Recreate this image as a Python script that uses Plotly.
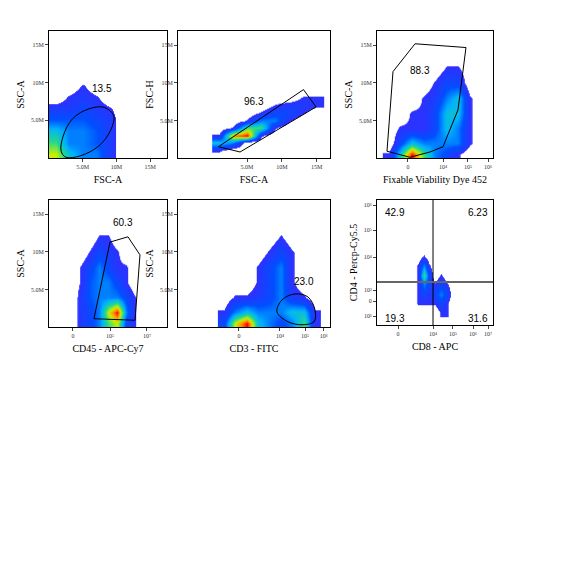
import plotly.graph_objects as go
from plotly.subplots import make_subplots

W = H = 563
OFF = 8  # page margin of the html body

# ---- density grids (rows from bottom) ----
p1_x = [1, 3, 5, 7, 9, 11, 13, 15]
p1_y = [0.5, 2, 3.5, 5, 6.5, 8, 9.5, 11]
p1_z = [
    [6, 4, 3, 3, 1.5, 0, 0, 0],
    [5, 3, 3, 2.5, 1.5, 0, 0, 0],
    [4, 3, 3, 2.5, 1.5, 0, 0, 0],
    [2.5, 2.5, 2.5, 2, 1.5, 0, 0, 0],
    [1.5, 1.5, 2, 1.5, 1, 0, 0, 0],
    [0, 1, 1.5, 1, 0, 0, 0, 0],
    [0, 0, 1, 0, 0, 0, 0, 0],
    [0, 0, 0, 0, 0, 0, 0, 0],
]
p2_x = [1, 3, 5, 7, 9, 11, 13, 15]
p2_y = [0, 1, 2, 3, 4, 5, 6, 7, 8, 9]
p2_z = [
    [0, 0, 0, 0, 0, 0, 0, 0],
    [1, 0, 0, 0, 0, 0, 0, 0],
    [4, 3, 0, 0, 0, 0, 0, 0],
    [1, 7, 8, 1, 0, 0, 0, 0],
    [0, 1, 5, 5, 1, 0, 0, 0],
    [0, 0, 1, 3, 3, 1, 0, 0],
    [0, 0, 0, 1, 2, 2, 1, 0],
    [0, 0, 0, 0, 1, 1.5, 1.5, 1],
    [0, 0, 0, 0, 0, 0, 1, 1],
    [0, 0, 0, 0, 0, 0, 0, 0],
]
p3_x = [10, 20, 30, 40, 50, 60, 70, 80, 90]
p3_y = [0.5, 2, 4, 6, 8, 10, 12, 14]
p3_z = [
    [1, 4, 8, 5, 3, 2, 1, 0, 0],
    [0, 2, 4, 3, 3, 3, 3, 1, 0],
    [0, 1, 1, 1, 2, 4, 3, 1, 0],
    [0, 0, 1, 1, 2, 4, 4, 1, 0],
    [0, 0, 0, 1, 1.5, 3, 4, 1, 0],
    [0, 0, 0, 0, 1, 2, 2, 0, 0],
    [0, 0, 0, 0, 0, 1, 1, 0, 0],
    [0, 0, 0, 0, 0, 0, 0, 0, 0],
]
p4_x = [20, 27.5, 35, 42.5, 50, 57.5, 65, 72.5, 80]
p4_y = [0.5, 2, 4, 6, 8, 10, 12, 14]
p4_z = [
    [0, 1.5, 2, 3, 5, 6, 2, 1, 0],
    [0, 1.5, 2, 3, 6, 8, 3, 1, 0],
    [0, 1.5, 2.5, 3, 3, 3, 2, 1, 0],
    [0, 1, 2.5, 3, 3, 2, 1, 0, 0],
    [0, 1, 2, 3, 2, 1, 1, 0, 0],
    [0, 0, 1, 2, 1.5, 1, 0, 0, 0],
    [0, 0, 0, 1, 1, 0, 0, 0, 0],
    [0, 0, 0, 0, 0, 0, 0, 0, 0],
]
p5_x = [30, 37.5, 45, 52.5, 60, 67.5, 75, 82.5, 90]
p5_y = [0.5, 2, 4, 6, 8, 10, 12, 14]
p5_z = [
    [2, 6, 8, 4, 3, 2, 3, 5, 1],
    [1, 3, 4, 3, 3, 3, 4, 4, 1],
    [0, 1, 1, 1.5, 2, 3, 1.5, 1, 0],
    [0, 0, 0, 1, 2, 3, 1, 0, 0],
    [0, 0, 0, 1, 2, 3, 1, 0, 0],
    [0, 0, 0, 0, 1, 2, 1, 0, 0],
    [0, 0, 0, 0, 0, 1, 0, 0, 0],
    [0, 0, 0, 0, 0, 0, 0, 0, 0],
]
p6_x = [30, 35, 40, 45, 50, 55, 60, 65]
p6_y = [10, 17.5, 25, 32.5, 40, 47.5, 55, 62.5]
p6_z = [
    [0, 0, 0, 0, 0, 1, 1, 0],
    [0, 1, 1, 1, 1, 2, 1, 0],
    [0, 1, 2, 1, 2, 3, 2, 0],
    [0, 1, 3, 2, 1, 2, 1, 0],
    [0, 1, 5, 2, 0, 1, 0, 0],
    [0, 1, 3, 1, 0, 0, 0, 0],
    [0, 0, 1, 0, 0, 0, 0, 0],
    [0, 0, 0, 0, 0, 0, 0, 0],
]

# ---- gates ----
g1_x = [1.8, 2.1, 3.5, 5.9, 8.2, 9.6, 9.1, 7.4, 4.7, 2.5, 1.8]
g1_y = [0.9, 2.9, 5.2, 6.5, 6.7, 5.6, 3.6, 1.6, 0.3, 0.1, 0.9]
g2_x = [0.9, 4.0, 14.9, 13.1, 0.9]
g2_y = [1.5, 0.8, 6.8, 9.1, 1.5]
g3_x = [8.6, 13.8, 32.8, 76.7, 69.8, 56.9, 45.7, 28.4, 8.6]
g3_y = [0.9, 11.5, 15.2, 14.7, 6.4, 1.5, 0.8, 0.1, 0.9]
g4_x = [38.1, 51.7, 66.9, 77.1, 72.9, 38.1]
g4_y = [1.1, 11.3, 12.0, 9.6, 0.9, 1.1]
g5_x = [65.1, 68.4, 77.0, 85.5, 90.1, 89.5, 81.6, 72.4, 65.1]
g5_y = [2.0, 3.6, 4.4, 4.0, 2.3, 0.7, 0.3, 0.7, 2.0]
quad_x, quad_y = 48.3, 34.4

# ---- labels ----
gate_labels = [
    (1, 1, 7.8, 9.2, "13.5"), (1, 2, 6.0, 7.5, "96.3"), (1, 3, 37, 11.7, "88.3"),
    (2, 1, 62.7, 13.9, "60.3"), (2, 2, 82.9, 6.0, "23.0"),
    (2, 3, 15.5, 90.4, "42.9"), (2, 3, 87, 90.4, "6.23"),
    (2, 3, 15.5, 5.6, "19.3"), (2, 3, 87, 5.6, "31.6"),
]
ssc_ticks = [5, 10, 15]
ssc_text = ["5.0M", "10M", "15M"]
fsc_ticks = [5, 10, 15]
fsc_text = ["5.0M", "10M", "15M"]
p3_ticks = [26.7, 56.9, 78.4, 95.7]
p3_text = ["0", "10⁴", "10⁵", "10⁶"]
p4_ticks = [20.3, 51.7, 83]
p4_text = ["0", "10⁵", "10⁷"]
p5_ticks = [40.1, 67.1, 83.6, 96]
p5_text = ["0", "10⁴", "10⁵", "10⁶"]
p6x_ticks = [18.1, 48.3, 65.5, 82.8, 95.7]
p6x_text = ["0", "10⁴", "10⁵", "10⁶", "10⁷"]
p6y_ticks = [7.2, 19.2, 28, 54.4, 76, 96]
p6y_text = ["10¹", "0", "10³", "10⁴", "10⁵", "10⁶"]

cscale = [[0, "rgba(255,255,255,0)"], [0.1, "rgba(255,255,255,0)"], [0.105, "#3030ff"],
          [0.3, "#0050ff"], [0.45, "#00b0ff"], [0.6, "#20d890"], [0.75, "#c8f000"],
          [0.88, "#ff9000"], [1, "#ff0000"]]

fig = make_subplots(rows=2, cols=3)

panels = [
    (1, 1, p1_x, p1_y, p1_z), (1, 2, p2_x, p2_y, p2_z), (1, 3, p3_x, p3_y, p3_z),
    (2, 1, p4_x, p4_y, p4_z), (2, 2, p5_x, p5_y, p5_z), (2, 3, p6_x, p6_y, p6_z),
]
for r, c, x, y, z in panels:
    fig.add_trace(go.Heatmap(x=x, y=y, z=z, zmin=0, zmax=8, zsmooth="best",
                             colorscale=cscale, showscale=False, hoverinfo="skip"),
                  row=r, col=c)

for r, c, gx, gy, shape in [(1, 1, g1_x, g1_y, "spline"), (1, 2, g2_x, g2_y, "linear"),
                            (1, 3, g3_x, g3_y, "linear"), (2, 1, g4_x, g4_y, "linear"),
                            (2, 2, g5_x, g5_y, "spline")]:
    fig.add_trace(go.Scatter(x=gx, y=gy, mode="lines", line=dict(color="black", width=1),
                             line_shape=shape, hoverinfo="skip", showlegend=False),
                  row=r, col=c)

fig.add_vline(x=quad_x, line=dict(color="black", width=1), row=2, col=3)
fig.add_hline(y=quad_y, line=dict(color="#666", width=2), row=2, col=3)

for r, c, x, y, t in gate_labels:
    fig.add_annotation(x=x, y=y, text=t, showarrow=False, row=r, col=c,
                       font=dict(family="Liberation Sans", size=10, color="black"))

# pixel boxes of each plot area: (left, right, top, bottom)
boxes = {
    (1, 1): (49, 167, 31, 158), (1, 2): (178, 330, 31, 158), (1, 3): (377, 493, 31, 158),
    (2, 1): (49, 167, 200, 327), (2, 2): (178, 330, 200, 327), (2, 3): (377, 493, 200, 325),
}
axes = {
    (1, 1): ([0, 17.5], fsc_ticks, fsc_text, "FSC-A", [0, 16.8], ssc_ticks, ssc_text, "SSC-A"),
    (1, 2): ([-4.9, 16.9], fsc_ticks, fsc_text, "FSC-A", [0, 16.9], ssc_ticks, ssc_text, "FSC-H"),
    (1, 3): ([0, 100], p3_ticks, p3_text, "Fixable Viability Dye 452", [0, 16.9], ssc_ticks, ssc_text, "SSC-A"),
    (2, 1): ([0, 100], p4_ticks, p4_text, "CD45 - APC-Cy7", [0, 16.9], ssc_ticks, ssc_text, "SSC-A"),
    (2, 2): ([0, 100], p5_ticks, p5_text, "CD3 - FITC", [0, 16.9], ssc_ticks, ssc_text, "SSC-A"),
    (2, 3): ([0, 100], p6x_ticks, p6x_text, "CD8 - APC", [0, 100], p6y_ticks, p6y_text, "CD4 - Percp-Cy5.5"),
}
tfont = dict(family="Liberation Serif", size=6, color="#333")
lfont = dict(family="Liberation Serif", size=10, color="black")
for (r, c), (l, rt, t, b) in boxes.items():
    xr, xt, xtt, xl, yr, yt, ytt, yl = axes[(r, c)]
    common = dict(showgrid=False, zeroline=False, showline=True, linecolor="black",
                  linewidth=1, mirror=True, ticks="outside", ticklen=3, tickfont=tfont,
                  title_font=lfont)
    fig.update_xaxes(domain=[(l - OFF) / W, (rt - OFF) / W], range=xr, tickvals=xt,
                     ticktext=xtt, title_text=xl, title_standoff=6, row=r, col=c, **common)
    fig.update_yaxes(domain=[1 - (b - OFF) / H, 1 - (t - OFF) / H], range=yr, tickvals=yt,
                     ticktext=ytt, title_text=yl, title_standoff=4, row=r, col=c, **common)

fig.update_layout(width=W, height=H, margin=dict(l=0, r=0, t=0, b=0),
                  plot_bgcolor="white", paper_bgcolor="white", showlegend=False)
fig.write_html("out.html")
